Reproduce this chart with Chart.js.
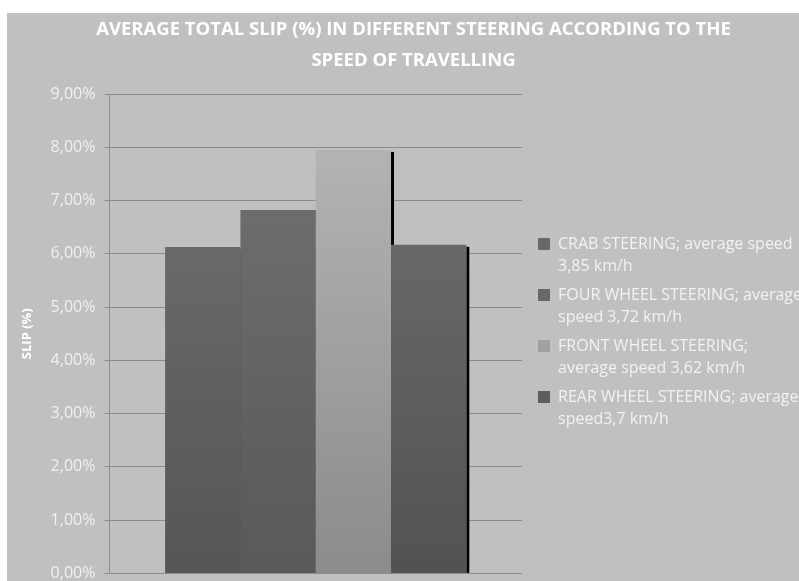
<!DOCTYPE html>
<html lang="en">
<head>
  <meta charset="UTF-8">
  <script src="https://cdn.jsdelivr.net/npm/chart.js"></script>
  <style>
    body, html {
      margin: 0;
      padding: 0;
      width: 799px;
      height: 581px;
      overflow: hidden;
      background: #ffffff;
      font-family: 'Open Sans', sans-serif;
    }
    .panel {
      position: absolute;
      left: 7px;
      top: 13px;
      right: 0;
      bottom: 0;
      background: #c0c0c0;
    }
    .chart-box {
      position: absolute;
      left: 7px;
      top: 14px;
      width: 805px;
      height: 578px;
    }
  </style>
</head>
<body>
  <div class="panel"></div>
  <div class="chart-box">
    <canvas id="slip-chart"></canvas>
  </div>
  <script>
    const categories = [''];
    const seriesLabels = [
      ['CRAB STEERING; average speed', '3,85 km/h'],
      ['FOUR WHEEL STEERING; average', 'speed 3,72 km/h'],
      ['FRONT WHEEL STEERING;', 'average speed 3,62 km/h'],
      ['REAR WHEEL STEERING; average', 'speed3,7 km/h']
    ];
    const slipValues = [6.13, 6.82, 7.95, 6.17];
    // top / bottom colour of each bar's gradient
    const topColors = ['#696969', '#6c6c6c', '#b3b3b3', '#686868'];
    const bottomColors = ['#555555', '#595959', '#8b8b8b', '#525252'];

    function barGradient(i) {
      return function (ctx) {
        const chart = ctx.chart;
        const y = chart.scales.y;
        if (!chart.chartArea || !y) return topColors[i];
        const top = y.getPixelForValue(slipValues[i]);
        const bottom = y.getPixelForValue(0);
        const g = chart.ctx.createLinearGradient(0, top, 0, bottom);
        g.addColorStop(0, topColors[i]);
        g.addColorStop(1, bottomColors[i]);
        return g;
      };
    }

    // Excel-like drop shadow on the right side of the bars
    const barShadow = {
      id: 'barShadow',
      beforeDatasetsDraw(chart) {
        const c = chart.ctx;
        c.save();
        c.fillStyle = '#000000';
        chart.data.datasets.forEach((ds, i) => {
          chart.getDatasetMeta(i).data.forEach(bar => {
            const right = bar.x + bar.width / 2;
            c.fillRect(right, bar.y + 2, 3, bar.base - bar.y - 2);
          });
        });
        c.restore();
      }
    };

    new Chart(document.getElementById('slip-chart'), {
      type: 'bar',
      data: {
        labels: categories,
        datasets: seriesLabels.map((label, i) => ({
          label: label,
          data: [slipValues[i]],
          backgroundColor: barGradient(i),
          borderWidth: 0
        }))
      },
      options: {
        responsive: true,
        maintainAspectRatio: false,
        animation: false,
        layout: { padding: { left: 8, top: 0, right: 0, bottom: 0 } },
        datasets: {
          bar: { categoryPercentage: 0.73, barPercentage: 1 }
        },
        plugins: {
          title: {
            display: true,
            text: ['AVERAGE TOTAL SLIP (%) IN DIFFERENT STEERING ACCORDING TO THE', 'SPEED OF TRAVELLING'],
            color: '#ffffff',
            font: { family: 'Open Sans', size: 18.5, weight: 'bold', lineHeight: '31px' },
            padding: { top: 0, bottom: 18 }
          },
          legend: {
            position: 'right',
            align: 'start',
            maxWidth: 400,
            // empty title only pushes the items down
            title: {
              display: true,
              text: ' ',
              font: { size: 10, lineHeight: '181px' },
              padding: 17
            },
            labels: {
              color: '#f2f2f2',
              boxWidth: 12,
              boxHeight: 12,
              padding: 7,
              font: { family: 'Open Sans', size: 16, lineHeight: '22px' }
            }
          },
          tooltip: { enabled: false }
        },
        scales: {
          x: { display: false },
          y: {
            min: 0,
            max: 9,
            ticks: {
              stepSize: 1,
              padding: 9,
              color: '#f0f0f0',
              font: { family: 'Open Sans', size: 16 },
              callback: v => v.toFixed(2).replace('.', ',') + '%'
            },
            grid: { color: '#8c8c8c', tickLength: 5 },
            border: { color: '#8c8c8c' },
            title: {
              display: true,
              text: 'SLIP (%)',
              color: '#ffffff',
              font: { family: 'Open Sans', size: 13, weight: 'bold' },
              padding: { top: 4, bottom: 7 }
            }
          },
          gap: {
            // spacer between the plot area and the legend
            position: 'right',
            display: true,
            grid: { display: false },
            border: { display: false },
            ticks: { display: false },
            afterFit: axis => { axis.width = 9; }
          }
        }
      },
      plugins: [barShadow]
    });
  </script>
</body>
</html>
